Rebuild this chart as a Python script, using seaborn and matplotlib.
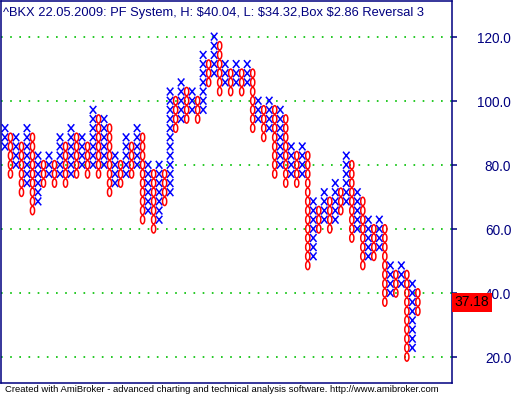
import seaborn as sns
from matplotlib import pyplot as plt
from matplotlib.path import Path
from matplotlib import transforms
import pandas as pd

sns.set_style("white")
plt.rcParams["font.family"] = ["Liberation Sans", "DejaVu Sans"]

# point & figure columns, box index (price = box * 2.86)
box = 2.86
col_types = "XO" * 38
col_low = [30, 27, 28, 25, 26, 23, 24, 26, 27, 26,
           27, 26, 27, 27, 28, 27, 28, 27, 28, 25,
           26, 26, 27, 27, 28, 22, 23, 21, 22, 24,
           25, 32, 33, 33, 34, 33, 34, 37, 38, 36,
           37, 36, 37, 36, 37, 32, 33, 31, 32, 27,
           28, 26, 27, 26, 27, 17, 18, 21, 22, 21,
           22, 23, 24, 20, 21, 17, 18, 18, 19, 13,
           14, 14, 15, 7, 8, 12]
col_high = [32, 31, 31, 30, 32, 31, 29, 28, 29, 28,
            31, 30, 32, 31, 31, 30, 34, 33, 33, 32,
            29, 28, 31, 30, 32, 31, 28, 27, 28, 27,
            36, 35, 37, 36, 36, 35, 40, 39, 42, 41,
            39, 38, 39, 38, 39, 38, 35, 34, 35, 34,
            34, 33, 30, 29, 30, 29, 24, 23, 25, 24,
            26, 25, 29, 28, 25, 24, 22, 21, 22, 21,
            17, 16, 17, 16, 15, 14]
last_price = 37.18
yticks = [20, 40, 60, 80, 100, 120]

rows = []
for i, (t, lo, hi) in enumerate(zip(col_types, col_low, col_high)):
    for b in range(lo, hi + 1):
        rows.append({"col": i, "price": b * box, "kind": t})
df = pd.DataFrame(rows)

x_marker = Path([(-0.5, -0.6), (0.5, 0.6), (-0.5, 0.6), (0.5, -0.6)],
                [Path.MOVETO, Path.LINETO, Path.MOVETO, Path.LINETO])
o_marker = Path.unit_circle().transformed(transforms.Affine2D().scale(0.5, 1.0))

navy = "#000080"
fig = plt.figure(figsize=(5.13, 3.95), dpi=100)
ax = fig.add_axes([1 / 513, 12 / 395, 451 / 513, 382 / 395])

sns.scatterplot(data=df[df["kind"] == "X"], x="col", y="price", marker=x_marker,
                s=32, facecolor="none", edgecolor="#0000ff", linewidth=1.1, ax=ax)
sns.scatterplot(data=df[df["kind"] == "O"], x="col", y="price", marker=o_marker,
                s=36, facecolor="none", edgecolor="#ff0000", linewidth=1.1, ax=ax)

ax.set_xlim(-0.72, 81.2)
ax.set_ylim(11.9, 131.25)
ax.set_xlabel("")
ax.set_ylabel("")
ax.set_xticks([])
ax.set_yticks(yticks)
ax.set_yticklabels([f"{v:.1f}" for v in yticks])
ax.yaxis.tick_right()
ax.tick_params(axis="y", direction="out", length=3.6, width=1.1, color=navy,
               labelcolor=navy, labelsize=9.8, pad=39)
for lab in ax.get_yticklabels():
    lab.set_ha("right")
ax.yaxis.grid(True, color="#00c000", linestyle=(0, (1, 4.5)), linewidth=1.2)
for sp in ax.spines.values():
    sp.set_color(navy)
    sp.set_linewidth(1.1)

ax.text(0.005, 0.985, "^BKX 22.05.2009: PF System, H: $40.04, L: $34.32,Box $2.86 Reversal 3",
        transform=ax.transAxes, ha="left", va="top", fontsize=9.3, color=navy)

trans = transforms.blended_transform_factory(ax.transAxes, ax.transData)
ax.text(1.006, last_price, f"{last_price:.2f}", transform=trans, ha="left", va="center",
        fontsize=10, color="black", clip_on=False,
        bbox=dict(boxstyle="square,pad=0.18", facecolor="#ff0000", edgecolor="none"))

fig.text(5 / 513, 1 - 389 / 395,
         "Created with AmiBroker - advanced charting and technical analysis software. http://www.amibroker.com",
         ha="left", va="center", fontsize=6.8, color="black")

fig.savefig("out.png", dpi=100)
